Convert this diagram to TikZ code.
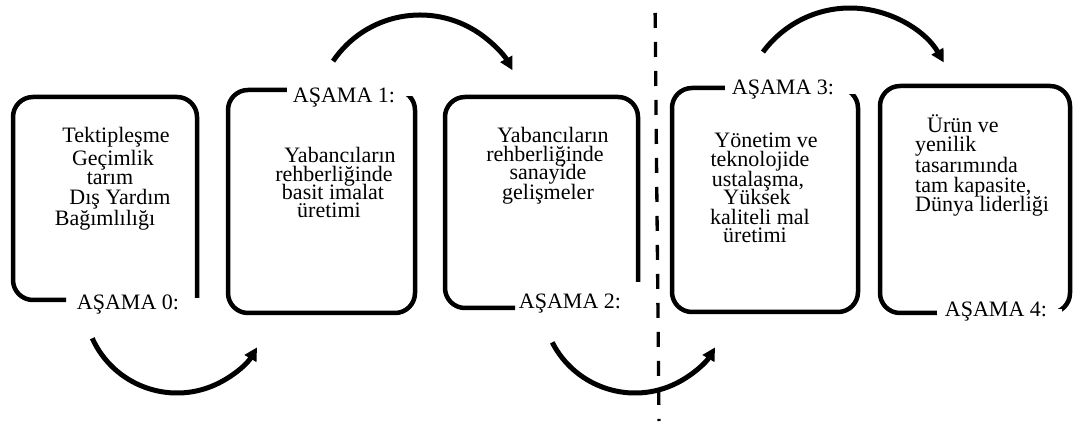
\documentclass[tikz,border=0pt]{standalone}
\usepackage{fontspec}
\setmainfont{Liberation Serif}
\usetikzlibrary{arrows.meta,calc}
\begin{document}
\begin{tikzpicture}[x=1pt,y=1pt,
  box/.style={line width=4.5pt, rounded corners=20pt},
  arr/.style={line width=5pt, -{Triangle[length=13pt,width=13pt]}},
  txt/.style={inner sep=0pt, anchor=base, font=\fontsize{22}{24}\selectfont},
  txtl/.style={txt, anchor=base west},
  mask/.style={fill=white, draw=none}]
\useasboundingbox (0,0) rectangle (1074,-427);

% boxes
\draw[box] (66,-300) -- (13,-300) -- (13,-97) -- (197,-97) -- (197,-298);
\draw[box] (228,-90) rectangle (415,-313);
\draw[box] (515,-308) -- (445,-308) -- (445,-97) -- (638,-97) -- (638,-282);
\draw[box] (672,-88) rectangle (858,-312);
\draw[box] (880,-86) rectangle (1070,-313);
% gaps under the labels
\path[mask] (287,-70) rectangle (425,-96);
\path[mask] (725,-65) rectangle (870,-94);
\path[mask] (937,-309) rectangle (1062,-330);

% stage labels
\node[txt] (l0) at (128,-310) {AŞAMA 0:};
\node[txt] (l1) at (344,-103) {AŞAMA 1:};
\node[txt] (l2) at (570,-309) {AŞAMA 2:};
\node[txt] (l3) at (783,-95) {AŞAMA 3:};
\node[txt] (l4) at (996,-317) {AŞAMA 4:};

% box 0 text
\node[txt] (t0a) at (116,-143) {Tektipleşme};
\node[txt] (t0b) at (113,-166) {Geçimlik};
\node[txt] (t0c) at (110,-185) {tarım};
\node[txt] (t0d) at (120,-205) {Dış Yardım};
\node[txt] (t0e) at (105,-226) {Bağımlılığı};

% box 1 text
\node[txt] (t1a) at (340,-163) {Yabancıların};
\node[txt] (t1b) at (334,-182) {rehberliğinde};
\node[txt] (t1c) at (333,-200) {basit imalat};
\node[txt] (t1d) at (329,-218) {üretimi};

% box 2 text
\node[txt] (t2a) at (553,-143) {Yabancıların};
\node[txt] (t2b) at (545,-162) {rehberliğinde};
\node[txt] (t2c) at (548,-180) {sanayide};
\node[txt] (t2d) at (548,-200) {gelişmeler};

% box 3 text
\node[txt] (t3a) at (766,-148) {Yönetim ve};
\node[txt] (t3b) at (760,-167) {teknolojide};
\node[txt] (t3c) at (758,-187) {ustalaşma,};
\node[txt] (t3d) at (757,-205) {Yüksek};
\node[txt] (t3e) at (760,-225) {kaliteli mal};
\node[txt] (t3f) at (755,-243) {üretimi};

% box 4 text
\node[txtl] (t4a) at (927,-133) {Ürün ve};
\node[txtl] (t4b) at (915,-152) {yenilik};
\node[txtl] (t4c) at (915,-173) {tasarımında};
\node[txtl] (t4d) at (915,-193) {tam kapasite,};
\node[txtl] (t4e) at (915,-212) {Dünya liderliği};

% curved arrows
\coordinate (c1) at (177,-300);
\coordinate (c2) at (420,-120);
\coordinate (c3) at (635,-300);
\coordinate (c4) at (850,-116);
\draw[arr] ($(c1)+(204.3:93)$) arc[start angle=204.3, end angle=329.4, radius=93pt];
\draw[arr] ($(c2)+(145.9:105)$) arc[start angle=145.9, end angle=28.3, radius=105pt];
\draw[arr] ($(c3)+(207.1:93)$) arc[start angle=207.1, end angle=329.4, radius=93pt];
\draw[arr] ($(c4)+(143.7:108)$) arc[start angle=143.7, end angle=29.7, radius=108pt];

% dividing dashed line
\coordinate (dtop) at (655,0);
\coordinate (dbot) at (659,-421);
\draw[line width=3.3pt, dash pattern=on 15pt off 14pt, dash phase=16pt] (dtop) -- (dbot);
\end{tikzpicture}
\end{document}
